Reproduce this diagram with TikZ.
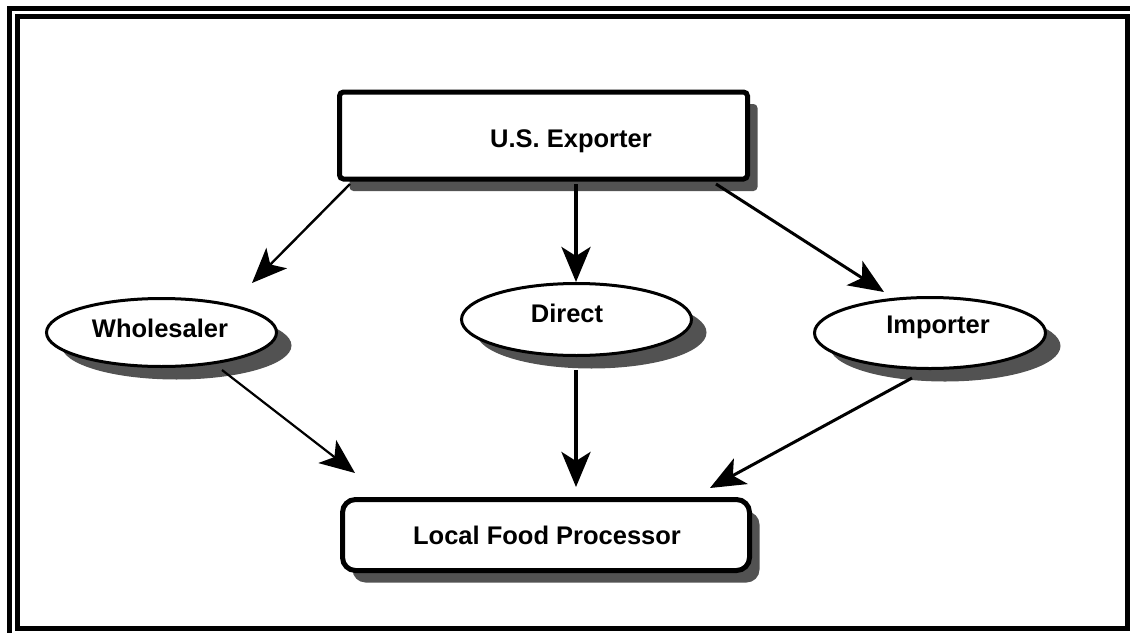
\documentclass[tikz,border=0pt]{standalone}
\usepackage{fontspec}
\setmainfont{Liberation Sans}
\usetikzlibrary{arrows.meta,shapes.geometric,shadows}
\begin{document}
\begin{tikzpicture}[x=1pt,y=-1pt,
  lbl/.style={font=\fontsize{25.5}{30}\selectfont\bfseries},
  boxshadow/.style={drop shadow={shadow xshift=10pt,shadow yshift=-12pt,fill=black!68,opacity=1}},
  ellshadow/.style={drop shadow={shadow xshift=15pt,shadow yshift=-13pt,fill=black!68,opacity=1}},
  sqbox/.style={draw=black,fill=white,line width=5pt,rounded corners=4pt,inner sep=0pt,boxshadow},
  rndbox/.style={draw=black,fill=white,line width=5pt,rounded corners=13pt,inner sep=0pt,boxshadow},
  oval/.style={ellipse,draw=black,fill=white,line width=3pt,inner sep=0pt,ellshadow},
  bigtip/.style={-{Stealth[length=35pt,width=29pt,inset=9pt]}},
]
\useasboundingbox (0,0) rectangle (1130,632);
% frame
\draw[line width=5pt] (17.5,16.5) rectangle (1127.5,628.5);
\draw[line width=5pt] (9.5,640) -- (9.5,8.5) -- (1140,8.5);

% nodes
\node[sqbox,minimum width=408pt,minimum height=87pt,
  label={[lbl,xshift=27.5pt,yshift=-6pt]center:U.S. Exporter}] (exp) at (543.5,135.5) {};
\node[rndbox,minimum width=407pt,minimum height=71pt,
  label={[lbl,xshift=1pt,yshift=0pt]center:Local Food Processor}] (lfp) at (546,535) {};
\node[oval,minimum width=230pt,minimum height=68pt,
  label={[lbl,xshift=-1.5pt,yshift=4.5pt]center:Wholesaler}] (wh) at (161.5,332.5) {};
\node[oval,minimum width=230pt,minimum height=72pt,
  label={[lbl,xshift=-9.5pt,yshift=6.5pt]center:Direct}] (dir) at (576.5,319.5) {};
\node[oval,minimum width=231pt,minimum height=71pt,
  label={[lbl,xshift=8pt,yshift=6pt]center:Importer}] (imp) at (930,333) {};

% connector end points
\coordinate (a1s) at (350,184);  \coordinate (a1e) at (252,283);
\coordinate (a2s) at (576,184);  \coordinate (a2e) at (576,282);
\coordinate (a3s) at (716,184);  \coordinate (a3e) at (884,292);
\coordinate (a4s) at (222,370);  \coordinate (a4e) at (355,473);
\coordinate (a5s) at (576,370);  \coordinate (a5e) at (576,487);
\coordinate (a6s) at (912,378);  \coordinate (a6e) at (710,488);

\draw[bigtip,line width=2.4pt] (a1s) -- (a1e);
\draw[bigtip,line width=4pt] (a2s) -- (a2e);
\draw[bigtip,line width=3pt] (a3s) -- (a3e);
\draw[bigtip,line width=2.2pt] (a4s) -- (a4e);
\draw[bigtip,line width=4pt] (a5s) -- (a5e);
\draw[bigtip,line width=3pt] (a6s) -- (a6e);
\end{tikzpicture}
\end{document}
